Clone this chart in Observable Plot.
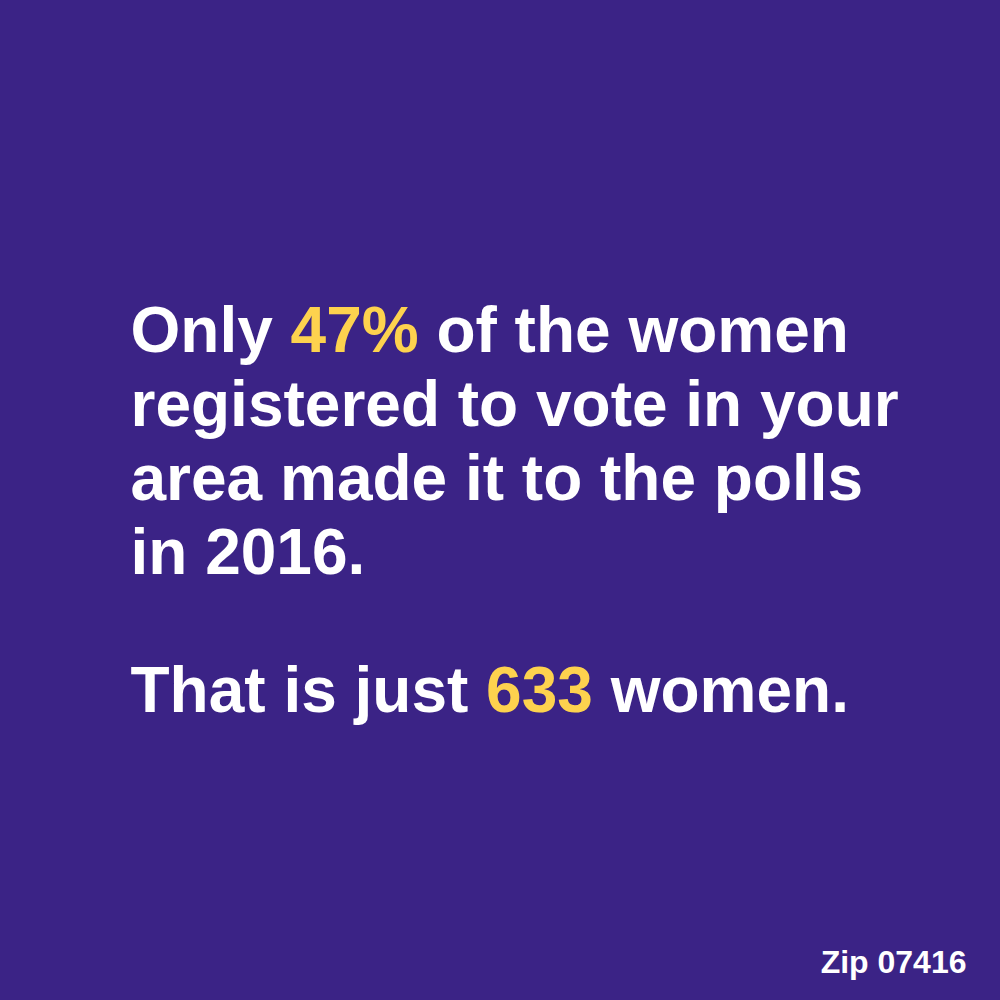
<!DOCTYPE html>
<html><head><meta charset="utf-8">
<script src="https://cdn.jsdelivr.net/npm/d3@7"></script>
<script src="https://cdn.jsdelivr.net/npm/@observablehq/plot@0.6"></script>
<style>html,body{margin:0;padding:0;background:#3b2386;} svg{display:block}</style>
</head><body><div id="chart"></div>
<script>
// Data
const turnoutPct = "47%";
const turnoutCount = "633";
const electionYear = "2016";
const zipCode = "07416";
const headlineLines = [
  "Only {" + turnoutPct + "} of the women",
  "registered to vote in your",
  "area made it to the polls",
  "in " + electionYear + "."
];
const followLines = ["That is just {" + turnoutCount + "} women."];
const footer = ["Zip " + zipCode];

// Layout
const W = 1000, H = 1000;
const bg = "#3b2386", white = "#ffffff", yellow = "#fdd24e";
const font = "'Liberation Sans', Arial, sans-serif";
const left = 130, firstBaseline = 351, lineStep = 74, followBaseline = 711;

const rows = [
  ...headlineLines.map((t, i) => ({t, y: firstBaseline + i * lineStep})),
  ...followLines.map((t, i) => ({t, y: followBaseline + i * lineStep}))
];
const plain = s => s.replace(/[{}]/g, "");

const svg = Plot.plot({
  width: W, height: H, margin: 0,
  style: {background: bg, fontFamily: font},
  x: {domain: [0, W], range: [0, W], axis: null},
  y: {domain: [0, H], range: [0, H], axis: null},
  marks: [
    Plot.text(rows, {x: () => left, y: "y", text: d => plain(d.t), textAnchor: "start",
      lineAnchor: "bottom", fontSize: 64, fontWeight: "bold", fill: white}),
    Plot.text(footer, {x: () => 966, y: () => 972, text: d => d, textAnchor: "end",
      lineAnchor: "bottom", fontSize: 32, fontWeight: "bold", fill: white})
  ]
});

// colour highlighted words
const texts = Array.from(svg.querySelectorAll("text"));
rows.forEach(r => {
  const el = texts.find(t => t.textContent === plain(r.t));
  if (!el) return;
  const parts = r.t.split(/(\{[^}]*\})/).filter(s => s.length);
  while (el.firstChild) el.removeChild(el.firstChild);
  parts.forEach(p => {
    const hl = p.startsWith("{");
    const ts = document.createElementNS("http://www.w3.org/2000/svg", "tspan");
    if (hl) ts.setAttribute("fill", yellow);
    ts.textContent = plain(p);
    el.appendChild(ts);
  });
});

document.getElementById("chart").append(svg);
</script>
</body></html>
